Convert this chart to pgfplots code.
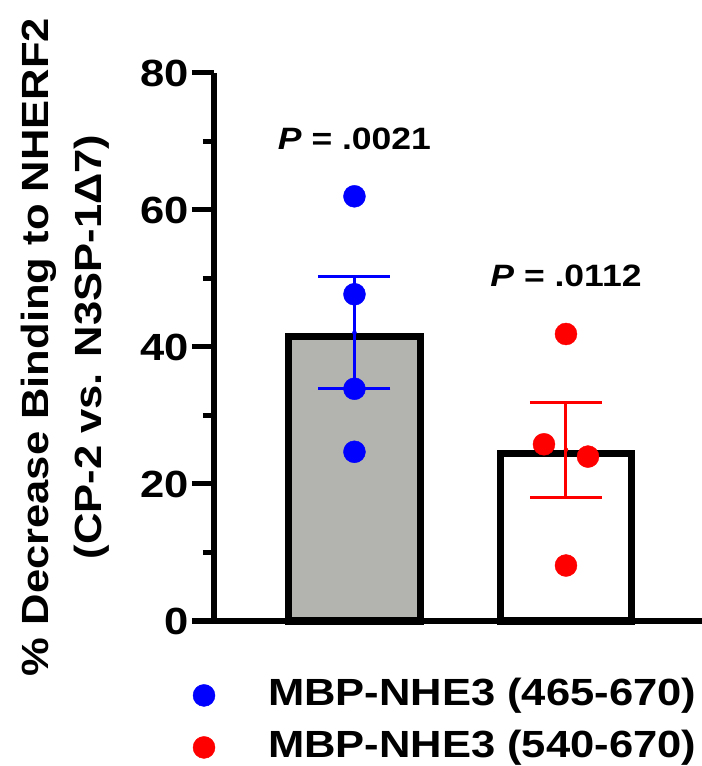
\documentclass[border=0pt]{standalone}
\usepackage{fontspec}
\setmainfont{Liberation Sans}[FakeStretch=1.15]
\usepackage{pgfplots}
\pgfplotsset{compat=1.18}
\definecolor{bargray}{RGB}{179,179,176}
\begin{document}
\begin{tikzpicture}
\begin{axis}[
  at={(214bp,145bp)}, anchor=south west,
  width=488bp, height=548bp, scale only axis,
  xmin=-0.664, xmax=1.643, ymin=0, ymax=80,
  axis lines*=left, axis line style={line width=5bp, -},
  xtick=\empty, ytick={0,20,...,80}, minor y tick num=1,
  tick align=outside, major tick length=22bp, minor tick length=11bp,
  tick style={black, line width=5bp},
  y tick label style={font=\fontsize{38}{38}\selectfont\bfseries, /pgf/number format/assume math mode=true},
  ylabel={\% Decrease Binding to NHERF2\\(CP-2 vs. N3SP-1Δ7)},
  ylabel style={font=\fontsize{38}{53}\selectfont\bfseries, align=center,
    at={(axis description cs:-0.215,0.5)}, anchor=south, inner sep=0pt},
  clip=false,
  legend cell align=left,
  legend image code/.code={\draw[mark repeat=2,mark phase=2,#1] plot coordinates {(0bp,0bp) (11bp,0bp) (22bp,0bp)};},
  legend style={draw=none, fill=none, inner sep=0pt, outer sep=0pt,
    at={(axis description cs:-0.043,-0.103)}, anchor=north west,
    nodes={inner sep=0pt, text height=28bp, text depth=8bp, font=\fontsize{38}{38}\selectfont\bfseries},
    row sep=16bp, /tikz/every odd column/.append style={column sep=53bp}},
]
% bars (mean)
\addplot[forget plot, ybar, bar width=0.62, bar shift=0pt, fill=bargray, draw=black, line width=7bp] coordinates {(0,41.6)};
\addplot[forget plot, ybar, bar width=0.62, bar shift=0pt, fill=white, draw=black, line width=7bp] coordinates {(1,24.5)};
% SEM
\addplot[forget plot, only marks, mark=none, blue,
  error bars/.cd, y dir=both, y explicit,
  error bar style={line width=3bp, blue},
  error mark options={rotate=90, mark size=36bp, line width=3bp, blue}]
  coordinates {(0,42.1) +- (0,8.15)};
\addplot[forget plot, only marks, mark=none, red,
  error bars/.cd, y dir=both, y explicit,
  error bar style={line width=3bp, red},
  error mark options={rotate=90, mark size=36bp, line width=3bp, red}]
  coordinates {(1,25.0) +- (0,6.9)};
% individual points
\addplot[only marks, mark=*, mark size=11bp, blue] coordinates {(0,62.0) (0,47.7) (0,33.9) (0,24.7)};
\addlegendentry{MBP-NHE3 (465-670)}
\addplot[only marks, mark=*, mark size=11bp, red] coordinates {(1,41.9) (0.896,25.8) (1.104,24.0) (1,8.1)};
\addlegendentry{MBP-NHE3 (540-670)}
\node[anchor=base, font=\fontsize{31}{31}\selectfont\bfseries] at (axis cs:0,68.8) {\textit{P} = .0021};
\node[anchor=base, font=\fontsize{31}{31}\selectfont\bfseries] at (axis cs:1,48.9) {\textit{P} = .0112};
\end{axis}
\pgfresetboundingbox
\useasboundingbox (0,0) rectangle (702bp,766bp);
\end{tikzpicture}
\end{document}
